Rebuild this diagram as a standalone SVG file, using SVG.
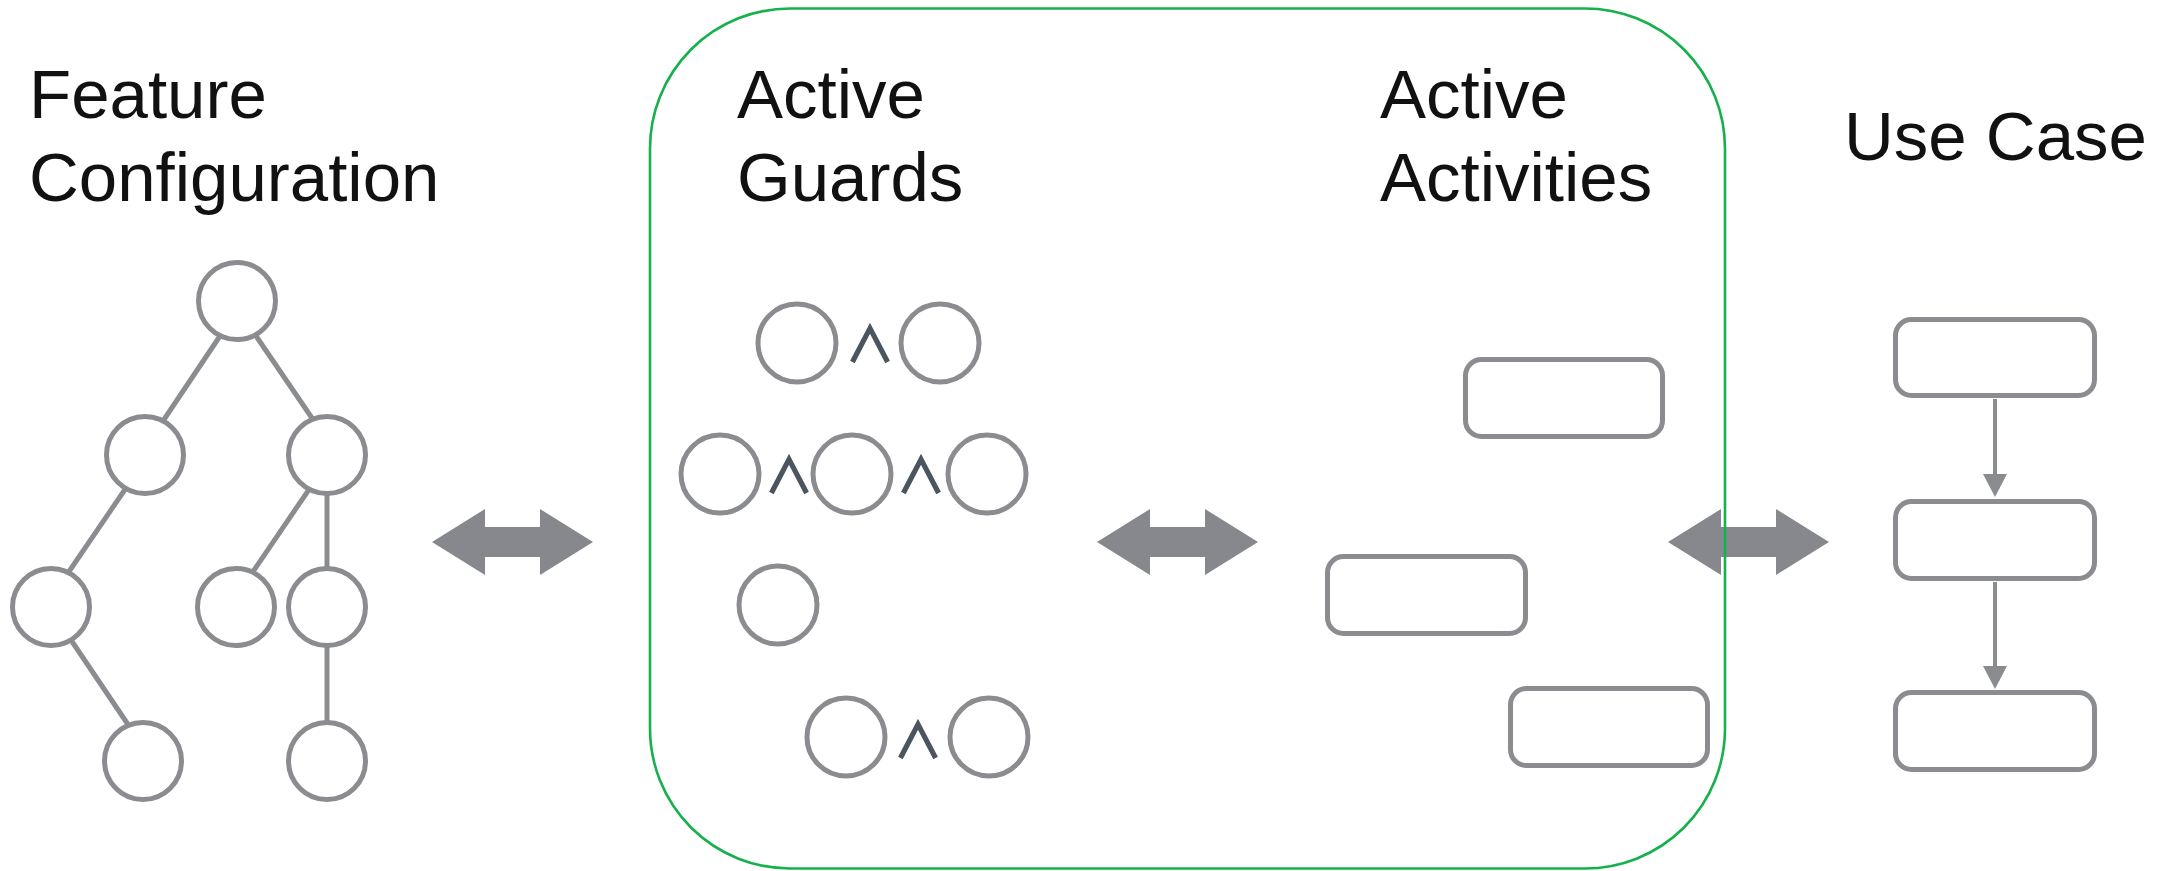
<svg xmlns="http://www.w3.org/2000/svg" xmlns:xlink="http://www.w3.org/1999/xlink" width="2175" height="871" viewBox="0 0 2175 871">
  <style>
    .title { font-family: "Liberation Sans", Arial, Helvetica, sans-serif; font-size: 69px; fill: #111; }
    .node { fill: #fff; stroke: #8a8c90; stroke-width: 5; }
    .edge { stroke: #8a8c90; stroke-width: 5; fill: none; }
    .flow { stroke: #8a8c90; stroke-width: 4; fill: none; }
    .wedge { font-family: "Noto Sans CJK JP", "DejaVu Sans", sans-serif; font-weight: 700; font-size: 51px; fill: #4b5560; text-anchor: middle; }
    .big { fill: #86888d; }
  </style>
  <defs>
    <path id="dbl" d="M0,0 L53,-33 L53,-15 L108,-15 L108,-33 L161,0 L108,33 L108,15 L53,15 L53,33 Z"/>
    <marker id="ah" viewBox="0 0 23 24" refX="16" refY="12" markerWidth="23" markerHeight="24" markerUnits="userSpaceOnUse" orient="auto">
      <path d="M0,0 L23,12 L0,24 Z" fill="#8a8c90"/>
    </marker>
  </defs>

  <!-- titles -->
  <g id="title-feature">
    <text class="title" x="29" y="118">Feature</text>
    <text class="title" x="29" y="201">Configuration</text>
  </g>
  <g id="title-guards">
    <text class="title" x="737" y="118">Active</text>
    <text class="title" x="737" y="201">Guards</text>
  </g>
  <g id="title-activities">
    <text class="title" x="1380" y="118">Active</text>
    <text class="title" x="1380" y="201">Activities</text>
  </g>
  <g id="title-usecase">
    <text class="title" x="1844" y="160">Use Case</text>
  </g>

  <!-- connectors -->
  <g id="connectors">
    <g id="tree-edges">
      <line class="edge" x1="222" y1="333" x2="163" y2="421"/>
      <line class="edge" x1="254" y1="333" x2="314" y2="421"/>
      <line class="edge" x1="126" y1="488" x2="68" y2="573"/>
      <line class="edge" x1="310" y1="488" x2="252" y2="573"/>
      <line class="edge" x1="327" y1="490" x2="327" y2="572"/>
      <line class="edge" x1="71" y1="640" x2="129" y2="726"/>
      <line class="edge" x1="327" y1="642" x2="327" y2="724"/>
    </g>
    <g id="flow-edges">
      <line class="flow" x1="1995" y1="399" x2="1995" y2="490" marker-end="url(#ah)"/>
      <line class="flow" x1="1995" y1="582" x2="1995" y2="682" marker-end="url(#ah)"/>
    </g>
    <g id="big-arrows">
      <use xlink:href="#dbl" href="#dbl" class="big" x="432" y="542"/>
      <use xlink:href="#dbl" href="#dbl" class="big" x="1097" y="542"/>
      <use xlink:href="#dbl" href="#dbl" class="big" x="1668" y="542"/>
    </g>
  </g>

  <!-- feature tree -->
  <g id="feature-tree">
    <circle id="f-root" class="node" cx="237" cy="301" r="38.5"/>
    <circle id="f-l2a" class="node" cx="145" cy="455" r="38.5"/>
    <circle id="f-l2b" class="node" cx="327" cy="455" r="38.5"/>
    <circle id="f-l3a" class="node" cx="51" cy="607" r="38.5"/>
    <circle id="f-l3b" class="node" cx="236" cy="607" r="38.5"/>
    <circle id="f-l3c" class="node" cx="327" cy="607" r="38.5"/>
    <circle id="f-l4a" class="node" cx="143" cy="761" r="38.5"/>
    <circle id="f-l4b" class="node" cx="327" cy="761" r="38.5"/>
  </g>

  <!-- active guards -->
  <g id="guards">
    <g id="guard-1">
      <circle class="node" cx="797" cy="343" r="39"/>
      <text class="wedge" x="870" y="363">∧</text>
      <circle class="node" cx="940" cy="343" r="39"/>
    </g>
    <g id="guard-2">
      <circle class="node" cx="720" cy="474" r="39"/>
      <text class="wedge" x="789" y="494">∧</text>
      <circle class="node" cx="852" cy="474" r="39"/>
      <text class="wedge" x="921" y="494">∧</text>
      <circle class="node" cx="987" cy="474" r="39"/>
    </g>
    <g id="guard-3">
      <circle class="node" cx="778" cy="605" r="39"/>
    </g>
    <g id="guard-4">
      <circle class="node" cx="846" cy="737" r="39"/>
      <text class="wedge" x="918" y="759">∧</text>
      <circle class="node" cx="989" cy="737" r="39"/>
    </g>
  </g>

  <!-- active activities -->
  <g id="activities">
    <rect id="act-1" class="node" x="1465.5" y="359.5" width="197" height="77" rx="16"/>
    <rect id="act-2" class="node" x="1327.5" y="556.5" width="198" height="77" rx="16"/>
    <rect id="act-3" class="node" x="1510.5" y="688.5" width="197" height="77" rx="16"/>
  </g>

  <!-- use case -->
  <g id="usecase">
    <rect id="uc-1" class="node" x="1895.5" y="319.5" width="199" height="76" rx="16"/>
    <rect id="uc-2" class="node" x="1895.5" y="501.5" width="199" height="77" rx="16"/>
    <rect id="uc-3" class="node" x="1895.5" y="692.5" width="199" height="77" rx="16"/>
  </g>

  <!-- green frame around guards and activities -->
  <g id="frame">
    <rect x="650" y="8.5" width="1075" height="860" rx="140" ry="140" fill="none" stroke="#16b04c" stroke-width="2.6"/>
  </g>
</svg>
